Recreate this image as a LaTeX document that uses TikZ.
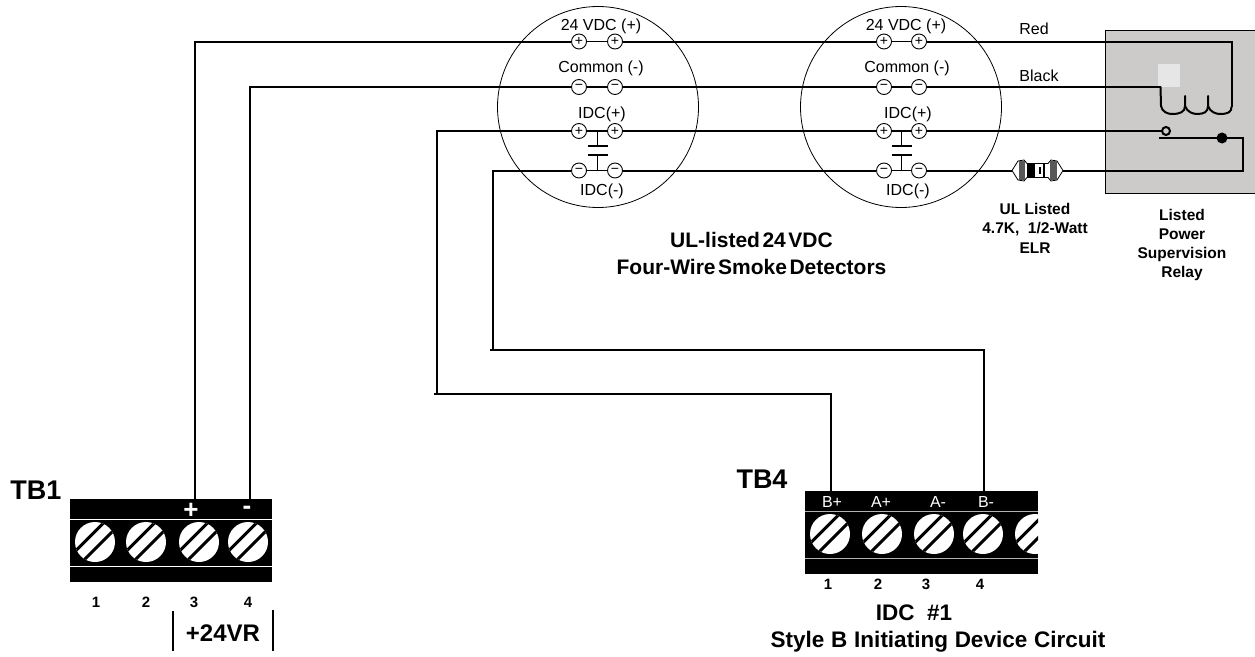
\documentclass[tikz,border=0pt]{standalone}
\usepackage{fontspec}
\setmainfont{Liberation Sans}
\usetikzlibrary{calc}
\definecolor{relaygray}{HTML}{CDCACA}
\definecolor{relaylight}{HTML}{E6E6E6}
\tikzset{
  wire/.style={line width=2pt,line join=miter},
  thin wire/.style={line width=1.1pt},
  head/.style={circle,draw,line width=.9pt,fill=white,minimum size=15pt,inner sep=0pt,font=\fontsize{14}{14}\selectfont},
  lab/.style={font=\fontsize{16}{16}\selectfont,inner sep=0pt},
  bold/.style 2 args={font=\bfseries\fontsize{#1}{#2}\selectfont,inner sep=0pt,align=center},
}
\newcommand{\screw}[3]{%
  \begin{scope}
  \fill[white] (#1,#2) circle (20);
  \clip (#1,#2) circle (20);
  \draw[black,line width=3pt] ($(#1,#2)+(-25,14.5)$) -- ++(40,-40);
  \draw[black,line width=3pt] ($(#1,#2)+(-15,22)$) -- ++(40,-40);
  \end{scope}}
\begin{document}
\begin{tikzpicture}[x=1pt,y=-1pt]
\useasboundingbox (0,0) rectangle (1255,656);
% relay box
\draw[fill=relaygray,line width=.8pt] (1105,30.5) rectangle (1256,193);
\fill[relaylight] (1158,64) rectangle (1180,87);
% detector bodies
\node[circle,draw,line width=.8pt,minimum size=201pt,inner sep=0pt] (d1) at (598,107) {};
\node[circle,draw,line width=.8pt,minimum size=201pt,inner sep=0pt] (d2) at (901,107) {};
% terminals
\node[head] (a1) at (579,41.5) {+};
\node[head] (a2) at (615,41.5) {+};
\node[head] (b1) at (579,87) {−};
\node[head] (b2) at (615,87) {−};
\node[head] (c1) at (579,131) {+};
\node[head] (c2) at (615,131) {+};
\node[head] (e1) at (579,170.5) {−};
\node[head] (e2) at (615,170.5) {−};
\node[head] (f1) at (884,41.5) {+};
\node[head] (f2) at (919,41.5) {+};
\node[head] (g1) at (884,87) {−};
\node[head] (g2) at (919,87) {−};
\node[head] (h1) at (884,131) {+};
\node[head] (h2) at (919,131) {+};
\node[head] (i1) at (884,170.5) {−};
\node[head] (i2) at (919,170.5) {−};
% jumpers
\foreach \p/\q in {a1/a2,b1/b2,c1/c2,e1/e2,f1/f2,g1/g2,h1/h2,i1/i2}{\draw[thin wire] (\p) -- (\q);}
% contacts
\foreach \x in {597.5,901.5}{
  \draw[thin wire] (\x,131) -- (\x,146) (\x-10,146) -- (\x+10,146);
  \draw[thin wire] (\x,170.5) -- (\x,155) (\x-10,155) -- (\x+10,155);
}
% terminal blocks
\fill[black] (70,499) rectangle (272,582);
\fill[white] (70,518.5) rectangle (272,519.8);
\fill[white] (70,566) rectangle (272,567.2);
\foreach \x in {95,146,199,248}{\screw{\x}{542}{}}
\begin{scope}
\clip (805,491) rectangle (1038,574);
\fill[black] (805,491) rectangle (1038,574);
\fill[gray!60] (805,510.5) rectangle (1038,511.8);
\fill[gray!60] (805,557.5) rectangle (1038,558.8);
\foreach \x in {830,882,934,983,1035}{\screw{\x}{534}{}}
\end{scope}
% coordinates
\coordinate (tb1p) at (195,499);
\coordinate (tb1n) at (250,499);
\coordinate (tb4p) at (830.5,491);
\coordinate (tb4n) at (984,491);
% wires
\draw[wire] (tb1p) -- (195,41.5) -- (a1);
\draw[wire] (tb1n) -- (250,87) -- (b1);
\draw[wire] (c1) -- (437,131) -- (437,394);
\draw[wire] (434,394) -- (830.5,394) -- (tb4p);
\draw[wire] (e1) -- (492.5,170.5) -- (492.5,349.5);
\draw[wire] (490,349.5) -- (984,349.5) -- (tb4n);
\draw[wire] (a2) -- (f1);
\draw[wire] (b2) -- (g1);
\draw[wire] (c2) -- (h1);
\draw[wire] (e2) -- (i1);
\coordinate (coilL) at (1160.5,87);
\coordinate (coilR) at (1231.5,107);
\draw[wire] (f2) -- (1231.5,41.5) -- (coilR);
\draw[wire] (g2) -- (coilL);
\draw[wire,line cap=round] (coilL) -- (1161,106) .. controls (1162,112) and (1168,114) .. (1172,114)
   .. controls (1180,114) and (1185,112) .. (1185,106) -- (1185,96);
\draw[wire,line cap=round] (1185,106) .. controls (1187,112) and (1193,114) .. (1197,114)
   .. controls (1204,114) and (1208,112) .. (1208,106) -- (1208,96);
\draw[wire,line cap=round] (1208,106) .. controls (1210,112) and (1216,114) .. (1220,114)
   .. controls (1228,114) and (1231.5,112) .. (coilR);
\node[circle,draw,line width=2pt,fill=none,minimum size=8pt,inner sep=0pt] (con) at (1166,131) {};
\draw[wire] (h2) -- (con);
\coordinate (armL) at (1159,138);
\coordinate (armR) at (1243,138);
\draw[wire] (armL) -- (armR) -- (1243,172);
\node[circle,fill=black,minimum size=11pt,inner sep=0pt] (pivot) at (1222,138) {};
% resistor
\coordinate (rl) at (1012,170.5);
\coordinate (rr) at (1063,170.5);
\draw[wire] (i2) -- (rl);
\draw[wire] (rr) -- (1243,170.5);
\draw[line width=.8pt,fill=white] (1012,170.5) -- (1018,161) -- (1024,160) -- (1027,163.5) -- (1048,163.5) -- (1051,160) -- (1057,161) -- (1063,170.5) -- (1057,180) -- (1051,181) -- (1048,177.5) -- (1027,177.5) -- (1024,181) -- (1018,180) -- cycle;
\fill[black!65] (1018.5,161) rectangle (1025,180);
\fill[black!65] (1050,161) rectangle (1056.5,180);
\fill[black] (1027,163.5) rectangle (1035,177.5);
\fill[black] (1039,167) rectangle (1041,174);
\fill[black] (1043,163.5) rectangle (1045,177.5);
% detector labels
\node[lab] at (601,26) {24 VDC (+)};
\node[lab] at (601,68) {Common (-)};
\node[lab] at (602,114) {IDC(+)};
\node[lab] at (602,191) {IDC(-)};
\node[lab] at (906,26) {24 VDC (+)};
\node[lab] at (907,68) {Common (-)};
\node[lab] at (908,114) {IDC(+)};
\node[lab] at (908,191) {IDC(-)};
\node[lab] at (1034,29) {Red};
\node[lab] at (1039,76) {Black};
% bold labels
\node[bold={15.5}{19.5}] at (1035,228) {UL Listed\\4.7K,\ \ 1/2-Watt\\ELR};
\node[bold={15.5}{19}] at (1182,245) {Listed\\Power\\Supervision\\Relay};
\node[bold={21}{27}] at (751.5,253) {\spaceskip=.12em UL-listed 24 VDC\\\spaceskip=.12em Four-Wire Smoke Detectors};
\node[bold={27}{27}] at (36,490) {TB1};
\node[bold={27}{27}] at (762,479) {TB4};
\node[bold={26}{26},text=white] at (191,511) {+};
\node[bold={26}{26},text=white] at (247,510) {-};
\foreach \x/\t in {96/1,146/2,194/3,248/4}{\node[bold={15}{15}] at (\x,602) {\t};}
\node[bold={24}{24}] at (223,633) {+24VR};
\draw[line width=2pt] (173,611) -- (173,651);
\draw[line width=2pt] (273,610) -- (273,651);
\foreach \x/\t in {832/B+,881/A+,938/A-,986/B-}{\node[lab,text=white] at (\x,502) {\t};}
\foreach \x/\t in {828/1,878/2,926/3,980/4}{\node[bold={15}{15}] at (\x,584) {\t};}
\node[bold={22.5}{22.5}] at (914,613) {IDC\ \ \#1};
\node[bold={22.5}{22.5}] at (938,642) {\spaceskip=.3em Style B Initiating Device Circuit};
\end{tikzpicture}
\end{document}
